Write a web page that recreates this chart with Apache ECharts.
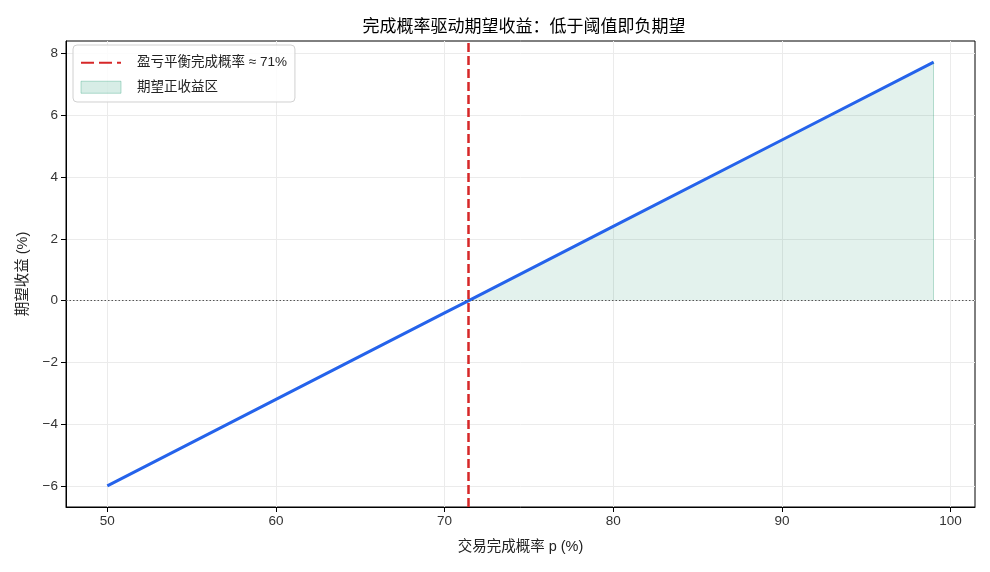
<!DOCTYPE html>
<html>
<head>
<meta charset="utf-8">
<script src="https://cdn.jsdelivr.net/npm/echarts@6/dist/echarts.min.js"></script>
<style>
  html, body { margin: 0; padding: 0; background: #fff; }
  #chart { width: 990px; height: 572px; }
</style>
</head>
<body>
<div id="chart"></div>
<script>
// values
const pValues = [50, 60, 70, 71.43, 80, 90, 99];
const expReturn = [-6, -3.2, -0.4, 0, 2.4, 5.2, 7.72];
const breakevenP = 71.43;
const xTicks = [50, 60, 70, 80, 90, 100];
const yTicks = [-6, -4, -2, 0, 2, 4, 6, 8];

const font = "'Liberation Sans', 'Noto Sans CJK SC', sans-serif";
const fillColor = 'rgba(42,160,120,0.19)';
const lineData = pValues.map((p, i) => [p, expReturn[i]]);
const fillData = lineData.filter(d => d[0] >= breakevenP);
const lastFill = fillData[fillData.length - 1];

const chart = echarts.init(document.getElementById('chart'));
chart.setOption({
  animation: false,
  textStyle: { fontFamily: font },
  title: {
    text: '完成概率驱动期望收益：低于阈值即负期望',
    left: 519, top: 14, textAlign: 'center',
    textStyle: { fontSize: 17, fontWeight: 'normal', color: '#000', fontFamily: font }
  },
  grid: { left: 66, right: 15, top: 41, bottom: 65, show: true, borderColor: '#000', borderWidth: 1 },
  legend: {
    orient: 'vertical', left: 73, top: 45,
    padding: [11, 8, 8, 7], itemGap: 11, itemWidth: 40, itemHeight: 12,
    borderColor: '#d0d0d0', borderWidth: 1, borderRadius: 4, backgroundColor: 'rgba(255,255,255,0.85)',
    textStyle: { fontSize: 13.5, color: '#222', fontFamily: font, padding: [0, 0, 0, 11] },
    data: [
      { name: '盈亏平衡完成概率 ≈ 71%', itemStyle: { color: 'rgba(0,0,0,0)', borderWidth: 0 } },
      { name: '期望正收益区', icon: 'rect',
        itemStyle: { color: fillColor, borderColor: 'rgba(42,160,120,0.35)', borderWidth: 1 } }
    ]
  },
  xAxis: {
    type: 'value', min: 47.55, max: 101.45,
    name: '交易完成概率 p (%)', nameLocation: 'middle', nameGap: 33,
    nameTextStyle: { fontSize: 14.5, color: '#222' },
    axisLine: { show: true, onZero: false, lineStyle: { color: '#000' } },
    axisTick: { show: true, length: 5, customValues: xTicks, lineStyle: { color: '#000' } },
    axisLabel: { customValues: xTicks, fontSize: 13.5, color: '#333', margin: 8 },
    splitLine: { show: true, lineStyle: { color: '#ebebeb' } }
  },
  yAxis: {
    type: 'value', min: -6.686, max: 8.406,
    name: '期望收益 (%)', nameLocation: 'middle', nameGap: 36, nameRotate: 90,
    nameTextStyle: { fontSize: 14.5, color: '#222' },
    axisLine: { show: true, onZero: false, lineStyle: { color: '#000' } },
    axisTick: { show: true, length: 5, customValues: yTicks, lineStyle: { color: '#000' } },
    axisLabel: { customValues: yTicks, fontSize: 13.5, color: '#333', margin: 8,
      formatter: v => (v < 0 ? '\u2212' + Math.abs(v) : String(v)) },
    splitLine: { show: true, lineStyle: { color: '#ebebeb' } }
  },
  series: [
    {
      name: '期望正收益区', type: 'line', data: fillData, symbol: 'none',
      lineStyle: { width: 0 },
      areaStyle: { color: fillColor, origin: 0 },
      markLine: {
        silent: true, symbol: 'none', label: { show: false },
        lineStyle: { color: 'rgba(42,160,120,0.3)', type: 'solid', width: 1 },
        data: [[{ coord: [lastFill[0], 0] }, { coord: lastFill }]]
      },
      z: 1
    },
    {
      name: 'zero', type: 'line', data: [], symbol: 'none',
      markLine: {
        silent: true, symbol: 'none', label: { show: false },
        lineStyle: { color: '#555', type: [1.5, 2], width: 1.2 },
        data: [{ yAxis: 0 }]
      },
      z: 2
    },
    {
      name: '期望收益', type: 'line', data: lineData, symbol: 'none',
      lineStyle: { color: '#2563eb', width: 3 },
      z: 3
    },
    {
      name: '盈亏平衡完成概率 ≈ 71%', type: 'line', data: [], symbol: 'none',
      color: '#d62728',
      lineStyle: { color: '#d62728', width: 2.5, type: [13, 5] },
      markLine: {
        silent: true, symbol: 'none', label: { show: false },
        lineStyle: { color: '#d62728', type: [9, 4], width: 2.5 },
        data: [{ xAxis: breakevenP }]
      },
      z: 4
    }
  ]
});
</script>
</body>
</html>
